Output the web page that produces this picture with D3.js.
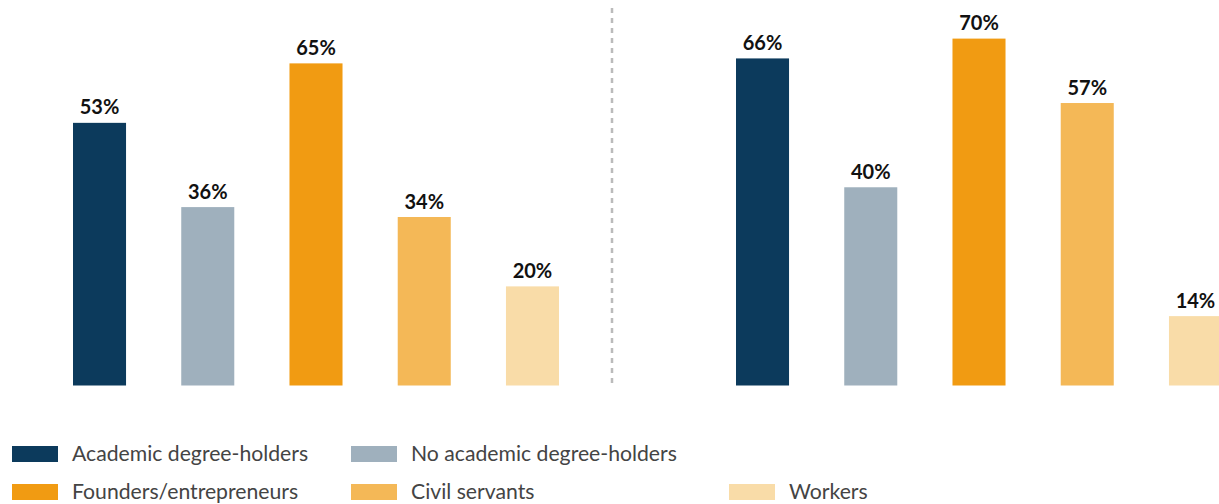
<!DOCTYPE html>
<html>
<head>
<meta charset="utf-8">
<script src="https://cdn.jsdelivr.net/npm/d3@7"></script>
<style>
  html, body { margin: 0; padding: 0; background: #fff; }
  svg { display: block; font-family: Lato, "Noto Sans", sans-serif; }
</style>
</head>
<body>
<svg id="chart" width="1219" height="504"></svg>
<script>
// Groups shown in each panel, in bar order
const groups = ["Academic degree-holders", "No academic degree-holders", "Founders/entrepreneurs", "Civil servants", "Workers"];
// Share (%) per group, left and right panel
const leftValues = [53, 36, 65, 34, 20];
const rightValues = [66, 40, 70, 57, 14];
const groupColors = ["#0c3a5c", "#9fb0bd", "#f19b12", "#f4b857", "#f9dca8"];

const svg = d3.select("#chart");
const baseline = 385.5;
const y = d3.scaleLinear().domain([0, 70]).range([baseline, 38.6]);

function drawPanel(values, x0, x1) {
  const x = d3.scaleBand().domain(groups).range([x0, x1]).paddingInner(0.51).paddingOuter(0);
  const g = svg.append("g");
  const data = groups.map((k, i) => ({ key: k, value: values[i], color: groupColors[i] }));
  g.selectAll("rect").data(data).join("rect")
    .attr("x", d => x(d.key))
    .attr("y", d => y(d.value))
    .attr("width", x.bandwidth())
    .attr("height", d => baseline - y(d.value))
    .attr("fill", d => d.color);
  g.selectAll("text").data(data).join("text")
    .attr("x", d => x(d.key) + x.bandwidth() / 2)
    .attr("y", d => y(d.value) - 8.5)
    .attr("text-anchor", "middle")
    .attr("font-size", 20)
    .attr("font-weight", 700)
    .attr("fill", "#111")
    .text(d => d.value + "%");
}

drawPanel(leftValues, 73, 559);
drawPanel(rightValues, 736, 1222);

// dashed divider between the panels
svg.append("line")
  .attr("x1", 612).attr("x2", 612)
  .attr("y1", 8).attr("y2", 385)
  .attr("stroke", "#bbb")
  .attr("stroke-width", 2.5)
  .attr("stroke-dasharray", "5,5");

// legend: two rows
const legendPos = [
  { x: 12, y: 446 }, { x: 351, y: 446 },
  { x: 12, y: 484 }, { x: 351, y: 484 }, { x: 729, y: 484 }
];
const lg = svg.append("g").selectAll("g").data(groups).join("g")
  .attr("transform", (d, i) => `translate(${legendPos[i].x},${legendPos[i].y})`);
lg.append("rect")
  .attr("width", 46).attr("height", 16)
  .attr("fill", (d, i) => groupColors[i]);
lg.append("text")
  .attr("x", 60).attr("y", 15)
  .attr("font-size", 21.2)
  .attr("fill", "#444")
  .text(d => d);
</script>
</body>
</html>
